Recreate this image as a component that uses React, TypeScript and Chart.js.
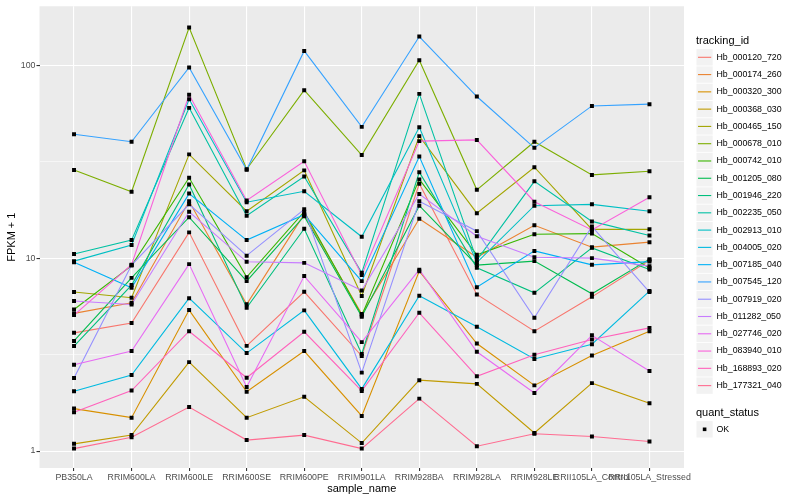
import { useEffect, useRef } from 'react';
import { Chart, registerables } from 'chart.js';
Chart.register(...registerables);

const categories = ['PB350LA', 'RRIM600LA', 'RRIM600LE', 'RRIM600SE', 'RRIM600PE', 'RRIM901LA', 'RRIM928BA', 'RRIM928LA', 'RRIM928LE', 'RRII105LA_Control', 'RRII105LA_Stressed'];

const trackingIds = ['Hb_000120_720', 'Hb_000174_260', 'Hb_000320_300', 'Hb_000368_030', 'Hb_000465_150', 'Hb_000678_010', 'Hb_000742_010', 'Hb_001205_080', 'Hb_001946_220', 'Hb_002235_050', 'Hb_002913_010', 'Hb_004005_020', 'Hb_007185_040', 'Hb_007545_120', 'Hb_007919_020', 'Hb_011282_050', 'Hb_027746_020', 'Hb_083940_010', 'Hb_168893_020', 'Hb_177321_040'];

const seriesColors = ['#F8766D', '#EA8331', '#D89000', '#C09B00', '#A3A500', '#7CAE00', '#39B600', '#00BB4E', '#00BF7D', '#00C1A3', '#00BFC4', '#00BAE0', '#00B0F6', '#35A2FF', '#9590FF', '#C77CFF', '#E76BF3', '#FA62DB', '#FF62BC', '#FF6C91'];

const s000120_720 = [4.10, 4.61, 13.6, 3.51, 6.69, 3.11, 24.3, 6.48, 4.18, 6.30, 9.76];
const s000174_260 = [5.17, 5.87, 19.7, 5.76, 16.9, 5.13, 16.0, 10.1, 14.8, 11.4, 12.1];
const s000320_300 = [1.66, 1.49, 5.38, 2.03, 3.30, 1.52, 8.56, 3.61, 2.19, 3.13, 4.18];
const s000368_030 = [1.09, 1.21, 2.89, 1.49, 1.91, 1.10, 2.33, 2.23, 1.24, 2.25, 1.77];
const s000465_150 = [6.67, 6.23, 34.5, 17.5, 28.5, 6.36, 42.9, 17.1, 29.6, 14.1, 14.1];
const s000678_010 = [28.6, 22.1, 156.8, 28.9, 74.2, 34.2, 106.2, 22.6, 40.1, 27.0, 28.2];
const s000742_010 = [5.42, 9.15, 26.1, 7.97, 17.4, 5.04, 25.6, 10.4, 13.3, 13.4, 8.88];
const s001205_080 = [3.72, 7.9, 16.3, 7.60, 16.5, 4.97, 18.7, 9.20, 9.65, 6.53, 9.88];
const s001946_220 = [3.50, 7.25, 24.1, 5.53, 14.2, 3.19, 27.9, 8.91, 6.61, 11.3, 8.72];
const s002235_050 = [10.5, 12.4, 60.1, 16.6, 26.5, 8.39, 71.0, 9.76, 25.0, 15.5, 13.1];
const s002913_010 = [9.65, 11.7, 66.6, 19.5, 22.2, 12.9, 47.7, 9.48, 18.7, 19.0, 17.5];
const s004005_020 = [2.04, 2.48, 6.20, 3.22, 5.36, 2.10, 6.38, 4.41, 3.00, 3.58, 6.75];
const s007185_040 = [9.53, 7.02, 21.6, 12.4, 16.8, 7.60, 33.6, 7.07, 10.9, 9.23, 9.59];
const s007545_120 = [43.9, 40.1, 97.3, 28.7, 118.6, 47.9, 140.8, 68.8, 37.3, 61.5, 62.8];
const s007919_020 = [2.39, 9.2, 19.0, 10.3, 17.9, 2.55, 19.7, 13.8, 4.91, 14.6, 6.67];
const s011282_050 = [5.99, 5.75, 17.4, 9.57, 9.45, 6.80, 21.5, 13.0, 10.1, 10.0, 9.09];
const s027746_020 = [2.80, 3.30, 9.31, 2.15, 8.07, 3.67, 8.72, 3.27, 2.00, 3.98, 2.60];
const s083940_010 = [5.07, 9.25, 70.2, 19.9, 31.8, 8.17, 40.4, 41.0, 19.6, 14.0, 20.7];
const s168893_020 = [1.59, 2.06, 4.18, 2.40, 4.15, 2.05, 5.21, 2.44, 3.16, 3.79, 4.35];
const s177321_040 = [1.03, 1.18, 1.69, 1.14, 1.21, 1.03, 1.87, 1.06, 1.23, 1.19, 1.12];

const seriesValues = [s000120_720, s000174_260, s000320_300, s000368_030, s000465_150, s000678_010, s000742_010, s001205_080, s001946_220, s002235_050, s002913_010, s004005_020, s007185_040, s007545_120, s007919_020, s011282_050, s027746_020, s083940_010, s168893_020, s177321_040];

const yTicks = [1, 10, 100];
const quantStatus = ['OK'];

const FONT = '"Liberation Sans", Arial, Helvetica, sans-serif';

const isMajor = (v: number) => yTicks.some((t) => Math.abs(t - v) < 1e-9);

const ggPlugin = {
  id: 'ggDecor',
  beforeDraw(chart: any) {
    const { ctx, chartArea: a } = chart;
    ctx.save();
    ctx.fillStyle = '#FFFFFF';
    ctx.fillRect(0, 0, chart.width, chart.height);
    ctx.fillStyle = '#EBEBEB';
    ctx.fillRect(a.left, a.top, a.right - a.left, a.bottom - a.top);
    ctx.restore();
  },
  afterDraw(chart: any) {
    const { ctx, chartArea: a } = chart;
    ctx.save();
    ctx.fillStyle = '#000000';
    ctx.font = `11px ${FONT}`;
    ctx.textAlign = 'center';
    ctx.textBaseline = 'middle';
    ctx.fillText('sample_name', (a.left + a.right) / 2, 488.5);
    ctx.save();
    ctx.translate(12, (a.top + a.bottom) / 2);
    ctx.rotate(-Math.PI / 2);
    ctx.fillText('FPKM + 1', 0, 0);
    ctx.restore();

    // legend: tracking_id
    const lx = 696.5;
    ctx.textAlign = 'left';
    ctx.font = `11px ${FONT}`;
    ctx.fillText('tracking_id', 696, 40.5);
    ctx.font = `8.8px ${FONT}`;
    trackingIds.forEach((name, i) => {
      const yc = 57.3 + i * 17.28;
      ctx.fillStyle = '#F2F2F2';
      ctx.fillRect(lx, yc - 8.2, 16.2, 16.4);
      ctx.strokeStyle = seriesColors[i];
      ctx.lineWidth = 1.1;
      ctx.beginPath();
      ctx.moveTo(lx + 1.5, yc);
      ctx.lineTo(lx + 14.7, yc);
      ctx.stroke();
      ctx.fillStyle = '#000000';
      ctx.fillText(name, 716.5, yc);
    });
    // legend: quant_status
    ctx.font = `11px ${FONT}`;
    ctx.fillText('quant_status', 696, 412.5);
    ctx.font = `8.8px ${FONT}`;
    quantStatus.forEach((s, i) => {
      const yc = 429.3 + i * 17.28;
      ctx.fillStyle = '#F2F2F2';
      ctx.fillRect(lx, yc - 8.2, 16.2, 16.4);
      ctx.fillStyle = '#000000';
      ctx.fillRect(lx + 8.1 - 1.8, yc - 1.8, 3.6, 3.6);
      ctx.fillText(s, 716.5, yc);
    });
    ctx.restore();
  },
};

export default function App() {
  const ref = useRef<HTMLCanvasElement | null>(null);

  useEffect(() => {
    if (!ref.current) return;
    const lineSets = seriesValues.map((vals, i) => ({
      label: trackingIds[i],
      data: vals.map((v, j) => ({ x: j, y: v })),
      borderColor: seriesColors[i],
      backgroundColor: seriesColors[i],
      borderWidth: 1.1,
      pointRadius: 0,
      tension: 0,
      fill: false,
      order: 100 - i,
    }));
    const pointSet = {
      label: 'quant_status',
      data: seriesValues.flatMap((vals) => vals.map((v, j) => ({ x: j, y: v }))),
      showLine: false,
      pointStyle: 'rect',
      pointRadius: 2.8,
      pointBorderWidth: 0,
      pointBackgroundColor: '#000000',
      borderColor: '#000000',
      backgroundColor: '#000000',
      order: 0,
    };

    const chart = new Chart(ref.current, {
      type: 'line',
      data: { datasets: [...lineSets, pointSet] as any },
      plugins: [ggPlugin],
      options: {
        animation: false,
        responsive: true,
        maintainAspectRatio: false,
        events: [],
        layout: { padding: { left: 0, top: 5, right: 116, bottom: 0 } },
        plugins: { legend: { display: false }, tooltip: { enabled: false } },
        scales: {
          x: {
            type: 'linear',
            min: -0.6,
            max: categories.length - 1 + 0.6,
            afterBuildTicks: (scale: any) => {
              scale.ticks = categories.map((_, i) => ({ value: i }));
            },
            afterFit: (scale: any) => {
              scale.height = 32;
            },
            border: { display: false },
            grid: {
              color: '#FFFFFF',
              lineWidth: 1.1,
              drawTicks: true,
              tickLength: 3,
              tickColor: '#333333',
            },
            ticks: {
              autoSkip: false,
              maxRotation: 0,
              minRotation: 0,
              padding: 1.5,
              color: '#4D4D4D',
              font: { family: FONT, size: 8.8 },
              callback: (v: any) => categories[Math.round(Number(v))] ?? '',
            },
          },
          y: {
            type: 'logarithmic',
            min: 0.817,
            max: 202,
            afterBuildTicks: (scale: any) => {
              const t: any[] = [];
              yTicks.forEach((v, i) => {
                t.push({ value: v });
                if (i < yTicks.length - 1) t.push({ value: Math.sqrt(v * yTicks[i + 1]) });
              });
              scale.ticks = t;
            },
            afterFit: (scale: any) => {
              scale.width = 39.5;
            },
            border: { display: false },
            grid: {
              color: '#FFFFFF',
              lineWidth: (c: any) => (c.tick && isMajor(c.tick.value) ? 1.1 : 0.55),
              drawTicks: true,
              tickLength: 3,
              tickColor: (c: any) => (c.tick && isMajor(c.tick.value) ? '#333333' : 'rgba(0,0,0,0)'),
            },
            ticks: {
              padding: 1,
              color: '#4D4D4D',
              font: { family: FONT, size: 8.8 },
              callback: (v: any) => (isMajor(Number(v)) ? String(v) : ''),
            },
          },
        },
      } as any,
    });
    return () => chart.destroy();
  }, []);

  return (
    <div style={{ position: 'absolute', left: 0, top: 0, width: 800, height: 500, background: '#FFFFFF' }}>
      <canvas ref={ref} />
    </div>
  );
}
